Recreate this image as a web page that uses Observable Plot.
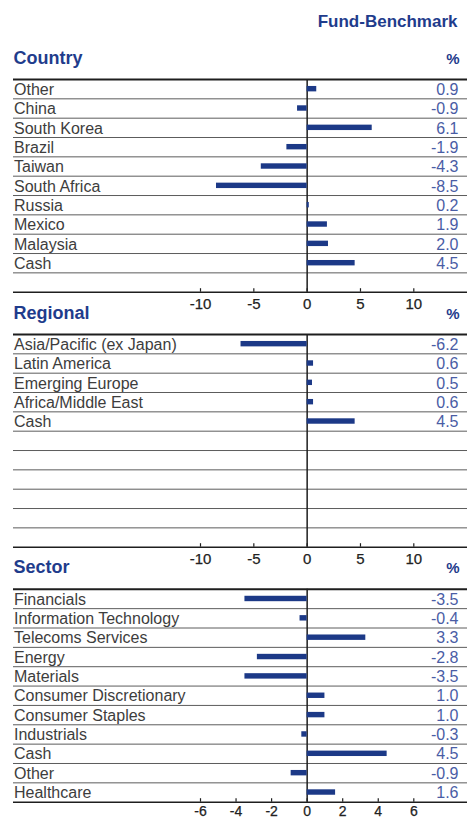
<!DOCTYPE html>
<html><head><meta charset="utf-8">
<script src="https://cdn.jsdelivr.net/npm/d3@7"></script>
<script src="https://cdn.jsdelivr.net/npm/@observablehq/plot@0.6"></script>
<style>
html,body{margin:0;padding:0;background:#fff;}
#chart{position:relative;width:468px;height:818px;overflow:hidden;background:#fff;}
#chart svg{position:absolute;left:0;top:0;background:transparent;}
</style></head><body><div id="chart"></div>
<script>
const headerTitle = "Fund-Benchmark";
const unitLabel = "%";

const countryTitle = "Country";
const countryNames = ["Other","China","South Korea","Brazil","Taiwan","South Africa","Russia","Mexico","Malaysia","Cash"];
const countryValues = [0.9,-0.9,6.1,-1.9,-4.3,-8.5,0.2,1.9,2.0,4.5];
const countryTicks = [-10,-5,0,5,10];

const regionalTitle = "Regional";
const regionalNames = ["Asia/Pacific (ex Japan)","Latin America","Emerging Europe","Africa/Middle East","Cash"];
const regionalValues = [-6.2,0.6,0.5,0.6,4.5];
const regionalTicks = [-10,-5,0,5,10];

const sectorTitle = "Sector";
const sectorNames = ["Financials","Information Technology","Telecoms Services","Energy","Materials","Consumer Discretionary","Consumer Staples","Industrials","Cash","Other","Healthcare"];
const sectorValues = [-3.5,-0.4,3.3,-2.8,-3.5,1.0,1.0,-0.3,4.5,-0.9,1.6];
const sectorTicks = [-6,-4,-2,0,2,4,6];

const W = 468, H = 818, ROWS = 11;
const NAVY = "#1c3987", TITLE = "#1f3c8c", VALUE = "#4a5da5", LABEL = "#3d3d3d", LINE = "#5c5c5c", DARK = "#1e1e1e";
const FONT = "'Liberation Sans', Arial, sans-serif";

function panel({title, names, values, ticks, top, bottom, header, tickFont, tickPad}) {
  const data = names.map((name, i) => ({name, value: values[i], i}));
  const ext = d3.max(ticks);
  const marks = [
    Plot.ruleY(d3.range(1, ROWS), {y: d => d, stroke: LINE, strokeWidth: 1}),
    Plot.ruleX([0], {x: d => d, stroke: DARK, strokeWidth: 1.5}),
    Plot.rectX(data, {x1: 0, x2: "value", y1: d => d.i + 0.36, y2: d => d.i + 0.64, fill: NAVY}),
    Plot.ruleY([0], {y: d => d, stroke: DARK, strokeWidth: 2}),
    Plot.ruleY([ROWS], {y: d => d, stroke: DARK, strokeWidth: 1.5}),
    Plot.ruleX(ticks, {x: d => d, y1: ROWS, y2: ROWS, insetTop: -3.5, stroke: DARK, strokeWidth: 1.2}),
    Plot.text(ticks, {x: d => d, y: ROWS, text: d => `${d}`, textAnchor: "middle", lineAnchor: "top", dy: tickPad, fontSize: tickFont, fill: "#222", stroke: "#222", strokeWidth: 0.25}),
    Plot.text(data, {text: "name", y: d => d.i + 1, frameAnchor: "left", textAnchor: "start", lineAnchor: "bottom", dy: -4, dx: 0.5, fill: LABEL, fontSize: 16}),
    Plot.text(data, {text: d => d.value.toFixed(1), y: d => d.i + 1, frameAnchor: "right", textAnchor: "end", lineAnchor: "bottom", dy: -4, dx: -9, fill: VALUE, fontSize: 16}),
    Plot.text([title], {text: d => d, frameAnchor: "top-left", textAnchor: "start", lineAnchor: "bottom", dy: -16, fill: TITLE, fontSize: 18, fontWeight: "bold"}),
    Plot.text([unitLabel], {text: d => d, frameAnchor: "top-right", textAnchor: "end", lineAnchor: "bottom", dy: -16, dx: -8, fill: TITLE, fontSize: 15, fontWeight: "bold"})
  ];
  if (header) {
    marks.push(Plot.text([header], {text: d => d, frameAnchor: "top-right", textAnchor: "end", lineAnchor: "bottom", dy: -53, dx: -10, fill: TITLE, fontSize: 17, fontWeight: "bold"}));
  }
  const svg = Plot.plot({
    width: W, height: H,
    marginTop: top, marginBottom: H - bottom, marginLeft: 13, marginRight: 1,
    style: {background: "transparent", fontFamily: FONT, overflow: "visible"},
    x: {domain: [-ext, ext], range: [200, 413.3], axis: null},
    y: {domain: [0, ROWS], range: [top, bottom], axis: null},
    marks
  });
  svg.style.background = "transparent";
  return svg;
}

const chart = document.getElementById("chart");
chart.append(panel({title: countryTitle, names: countryNames, values: countryValues, ticks: countryTicks, top: 79, bottom: 291.7, header: headerTitle, tickFont: 15, tickPad: 6}));
chart.append(panel({title: regionalTitle, names: regionalNames, values: regionalValues, ticks: regionalTicks, top: 334, bottom: 546.7, tickFont: 15, tickPad: 6}));
chart.append(panel({title: sectorTitle, names: sectorNames, values: sectorValues, ticks: sectorTicks, top: 588.8, bottom: 801.7, tickFont: 14, tickPad: 3.5}));
</script></body></html>
